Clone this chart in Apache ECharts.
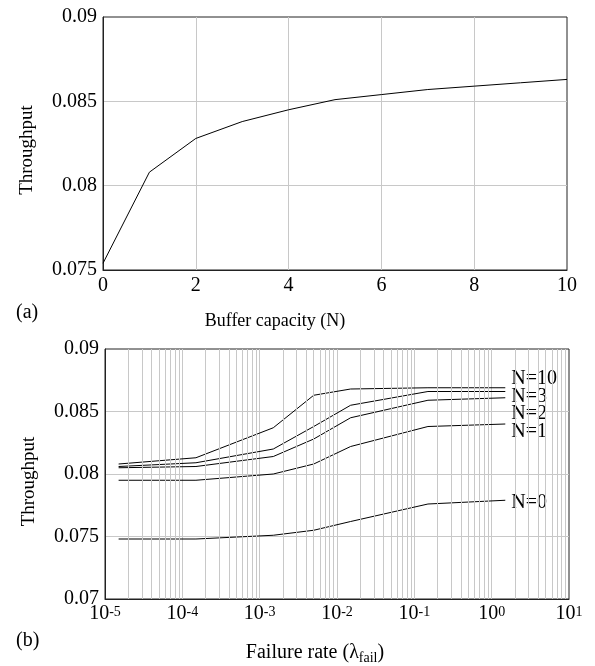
<!DOCTYPE html>
<html>
<head>
<meta charset="utf-8">
<script src="https://cdn.jsdelivr.net/npm/echarts@6/dist/echarts.min.js"></script>
<style>
html,body{margin:0;padding:0;background:#fff;}
#main{width:595px;height:666px;}
</style>
</head>
<body>
<div id="main"></div>
<script>
// (a) throughput vs buffer capacity
var bufferN = [0, 1, 2, 3, 4, 5, 6, 7, 8, 9, 10];
var bufferThroughput = [0.0754, 0.0808, 0.0828, 0.0838, 0.0845, 0.0851, 0.0854, 0.0857, 0.0859, 0.0861, 0.0863];

// (b) throughput vs failure rate
var failRate = [1.5e-5, 1.5e-4, 1.5e-3, 5e-3, 1.5e-2, 1.5e-1, 1.5];
var thrN0  = [0.0748, 0.0748, 0.0751, 0.0755, 0.0762, 0.0776, 0.0779];
var thrN1  = [0.0795, 0.0795, 0.0800, 0.0808, 0.0822, 0.0838, 0.0840];
var thrN2  = [0.0805, 0.0806, 0.0814, 0.0828, 0.0845, 0.0859, 0.0861];
var thrN3  = [0.0806, 0.0809, 0.0820, 0.0838, 0.0855, 0.0866, 0.0866];
var thrN10 = [0.0808, 0.0813, 0.0837, 0.0863, 0.0868, 0.0869, 0.0869];
var curveNames = ['N=0', 'N=1', 'N=2', 'N=3', 'N=10'];
var labelShift = [2, 8, 16, 5, -9];   // end label nudges so they don't collide

var serif = 'Liberation Serif';
var gridGray = '#c8c8c8';

var myChart = echarts.init(document.getElementById('main'));

// minor grid lines of the log axis (2..9 x each decade)
var minorLines = [];
for (var d = -5; d < 1; d++) {
    for (var k = 2; k < 10; k++) {
        var xv = k * Math.pow(10, d);
        minorLines.push([{coord: [xv, 0.07]}, {coord: [xv, 0.09]}]);
    }
}

function curve(name, data, dy) {
    return {
        name: name,
        type: 'line',
        xAxisIndex: 1,
        yAxisIndex: 1,
        data: failRate.map(function (x, i) { return [x, data[i]]; }),
        symbol: 'none',
        lineStyle: {color: '#000', width: 1},
        endLabel: {
            show: true,
            formatter: name,
            distance: 6,
            offset: [0, dy],
            color: '#000',
            fontFamily: serif,
            fontSize: 20
        },
        z: 3
    };
}

var curves = [thrN0, thrN1, thrN2, thrN3, thrN10];
var series = [
    {
        name: 'a',
        type: 'line',
        data: bufferN.map(function (x, i) { return [x, bufferThroughput[i]]; }),
        symbol: 'none',
        lineStyle: {color: '#000', width: 1},
        z: 3
    },
    {
        name: 'minor',
        type: 'line',
        xAxisIndex: 1,
        yAxisIndex: 1,
        data: [],
        silent: true,
        z: 1,
        markLine: {
            silent: true,
            symbol: 'none',
            label: {show: false},
            lineStyle: {color: gridGray, width: 1, type: 'solid'},
            data: minorLines
        }
    }
];
for (var i = 0; i < curves.length; i++) {
    series.push(curve(curveNames[i], curves[i], labelShift[i]));
}

var option = {
    animation: false,
    grid: [
        {left: 103, top: 17, width: 464, height: 253, show: true, borderColor: '#222', borderWidth: 1},
        {left: 105, top: 349, width: 464, height: 253, show: true, borderColor: '#222', borderWidth: 1}
    ],
    xAxis: [
        {
            type: 'value', gridIndex: 0, min: 0, max: 10, interval: 2,
            axisLine: {show: true, lineStyle: {color: '#222'}},
            axisTick: {show: false},
            axisLabel: {margin: 6, color: '#000', fontFamily: serif, fontSize: 20},
            splitLine: {show: true, showMinLine: false, showMaxLine: false, lineStyle: {color: gridGray}},
            name: 'Buffer capacity (N)',
            nameLocation: 'middle',
            nameGap: 42,
            nameTextStyle: {color: '#000', fontFamily: serif, fontSize: 18, padding: [0, 120, 0, 0]}
        },
        {
            type: 'log', logBase: 10, gridIndex: 1, min: 1e-5, max: 10,
            axisLine: {show: true, lineStyle: {color: '#222'}},
            axisTick: {show: false},
            axisLabel: {
                margin: 5,
                formatter: function (v) {
                    var e = Math.round(Math.log(v) / Math.LN10);
                    return '{b|10}{e|' + e + '}';
                },
                rich: {
                    b: {color: '#000', fontFamily: serif, fontSize: 20},
                    e: {color: '#000', fontFamily: serif, fontSize: 14, padding: [0, 0, 4, 0]}
                }
            },
            splitLine: {show: true, showMinLine: false, showMaxLine: false, lineStyle: {color: gridGray}},
            name: '{n|Failure rate (λ}{s|fail}{n|)}',
            nameLocation: 'middle',
            nameGap: 42,
            nameTextStyle: {
                padding: [0, 44, 0, 0],
                rich: {
                    n: {color: '#000', fontFamily: serif, fontSize: 20},
                    s: {color: '#000', fontFamily: serif, fontSize: 14, padding: [10, 0, 0, 0]}
                }
            }
        }
    ],
    yAxis: [
        {
            type: 'value', gridIndex: 0, min: 0.075, max: 0.09, interval: 0.005,
            axisLine: {show: true, lineStyle: {color: '#222'}},
            axisTick: {show: false},
            axisLabel: {margin: 6, color: '#000', fontFamily: serif, fontSize: 20},
            splitLine: {show: true, showMinLine: false, showMaxLine: false, lineStyle: {color: gridGray}},
            name: 'Throughput',
            nameLocation: 'middle',
            nameGap: 66,
            nameTextStyle: {color: '#000', fontFamily: serif, fontSize: 19, padding: [0, 13, 0, 0]}
        },
        {
            type: 'value', gridIndex: 1, min: 0.07, max: 0.09, interval: 0.005,
            axisLine: {show: true, lineStyle: {color: '#222'}},
            axisTick: {show: false},
            axisLabel: {margin: 6, color: '#000', fontFamily: serif, fontSize: 20},
            splitLine: {show: true, showMinLine: false, showMaxLine: false, lineStyle: {color: gridGray}},
            name: 'Throughput',
            nameLocation: 'middle',
            nameGap: 66,
            nameTextStyle: {color: '#000', fontFamily: serif, fontSize: 19, padding: [0, 15, 0, 0]}
        }
    ],
    graphic: [
        {type: 'text', left: 16, top: 303, style: {text: '(a)', fill: '#000', font: '20px "Liberation Serif"'}},
        {type: 'text', left: 16, top: 631, style: {text: '(b)', fill: '#000', font: '20px "Liberation Serif"'}}
    ],
    series: series
};

myChart.setOption(option);
</script>
</body>
</html>
